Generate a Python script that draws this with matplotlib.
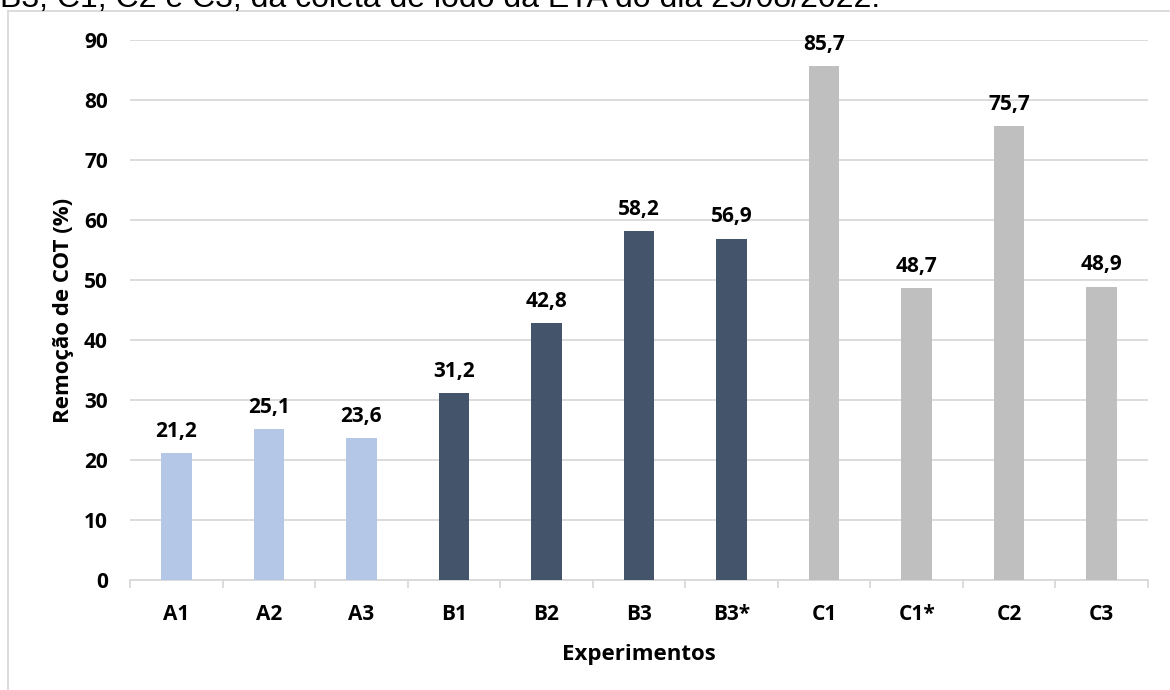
import matplotlib
matplotlib.use("Agg")
import matplotlib.pyplot as plt
from matplotlib.lines import Line2D

experimentos = ["A1", "A2", "A3", "B1", "B2", "B3", "B3*", "C1", "C1*", "C2", "C3"]
remocao_cot = [21.2, 25.1, 23.6, 31.2, 42.8, 58.2, 56.9, 85.7, 48.7, 75.7, 48.9]
grupos = ["A", "A", "A", "B", "B", "B", "B", "C", "C", "C", "C"]
cores_grupo = {"A": "#B4C7E7", "B": "#44546A", "C": "#BFBFBF"}
rotulos_y = [0, 10, 20, 30, 40, 50, 60, 70, 80, 90]

W, H = 1170, 690
fig = plt.figure(figsize=(W / 100, H / 100), dpi=100)
fig.patch.set_facecolor("white")

# caption line partially above the frame
fig.text(0.0, 1 - 7 / H, "B3, C1, C2 e C3, da coleta de lodo da ETA do dia 25/08/2022.",
         fontsize=23, family="Liberation Sans", color="black", ha="left", va="baseline")

# chart area frame
fig.add_artist(Line2D([8 / W, 8 / W], [0, 1 - 11 / H], transform=fig.transFigure,
                      color="#D9D9D9", lw=1.3))
fig.add_artist(Line2D([8 / W, 1], [1 - 11 / H, 1 - 11 / H], transform=fig.transFigure,
                      color="#D9D9D9", lw=1.3))

ax = fig.add_axes([130 / W, 1 - 580 / H, (1148 - 130) / W, (580 - 40) / H])
x = list(range(len(experimentos)))
cores = [cores_grupo[g] for g in grupos]
bars = ax.bar(x, remocao_cot, width=0.33, color=cores, zorder=3)

font = dict(family="Open Sans", weight="bold", size=15)
font_titulo = dict(family="Open Sans", weight="bold", size=16)
for xi, v in zip(x, remocao_cot):
    ax.annotate(f"{v:.1f}".replace(".", ","), (xi, v), xytext=(0, 8),
                textcoords="offset points", ha="center", va="bottom", **font)

ax.set_xlim(-0.5, len(experimentos) - 0.5)
ax.set_ylim(0, 90)
ax.set_yticks(rotulos_y)
ax.set_yticklabels([str(t) for t in rotulos_y], **font)
ax.yaxis.grid(True, color="#D9D9D9", lw=1.3, zorder=0)
ax.tick_params(axis="y", length=0, pad=16)

ax.set_xticks([i - 0.5 for i in range(len(experimentos) + 1)], minor=False)
ax.set_xticklabels([])
ax.set_xticks(x, minor=True)
ax.set_xticklabels(experimentos, minor=True, **font)
ax.tick_params(axis="x", which="major", length=6, color="#D9D9D9", width=1.3)
ax.tick_params(axis="x", which="minor", length=0, pad=17)

for s in ["left", "right", "top"]:
    ax.spines[s].set_visible(False)
ax.spines["bottom"].set_color("#D9D9D9")
ax.spines["bottom"].set_linewidth(1.3)

ax.set_xlabel("Experimentos", labelpad=14, **font_titulo)
ax.set_ylabel("Remoção de COT (%)", labelpad=7, **font_titulo)

fig.savefig("out.png", dpi=100)
